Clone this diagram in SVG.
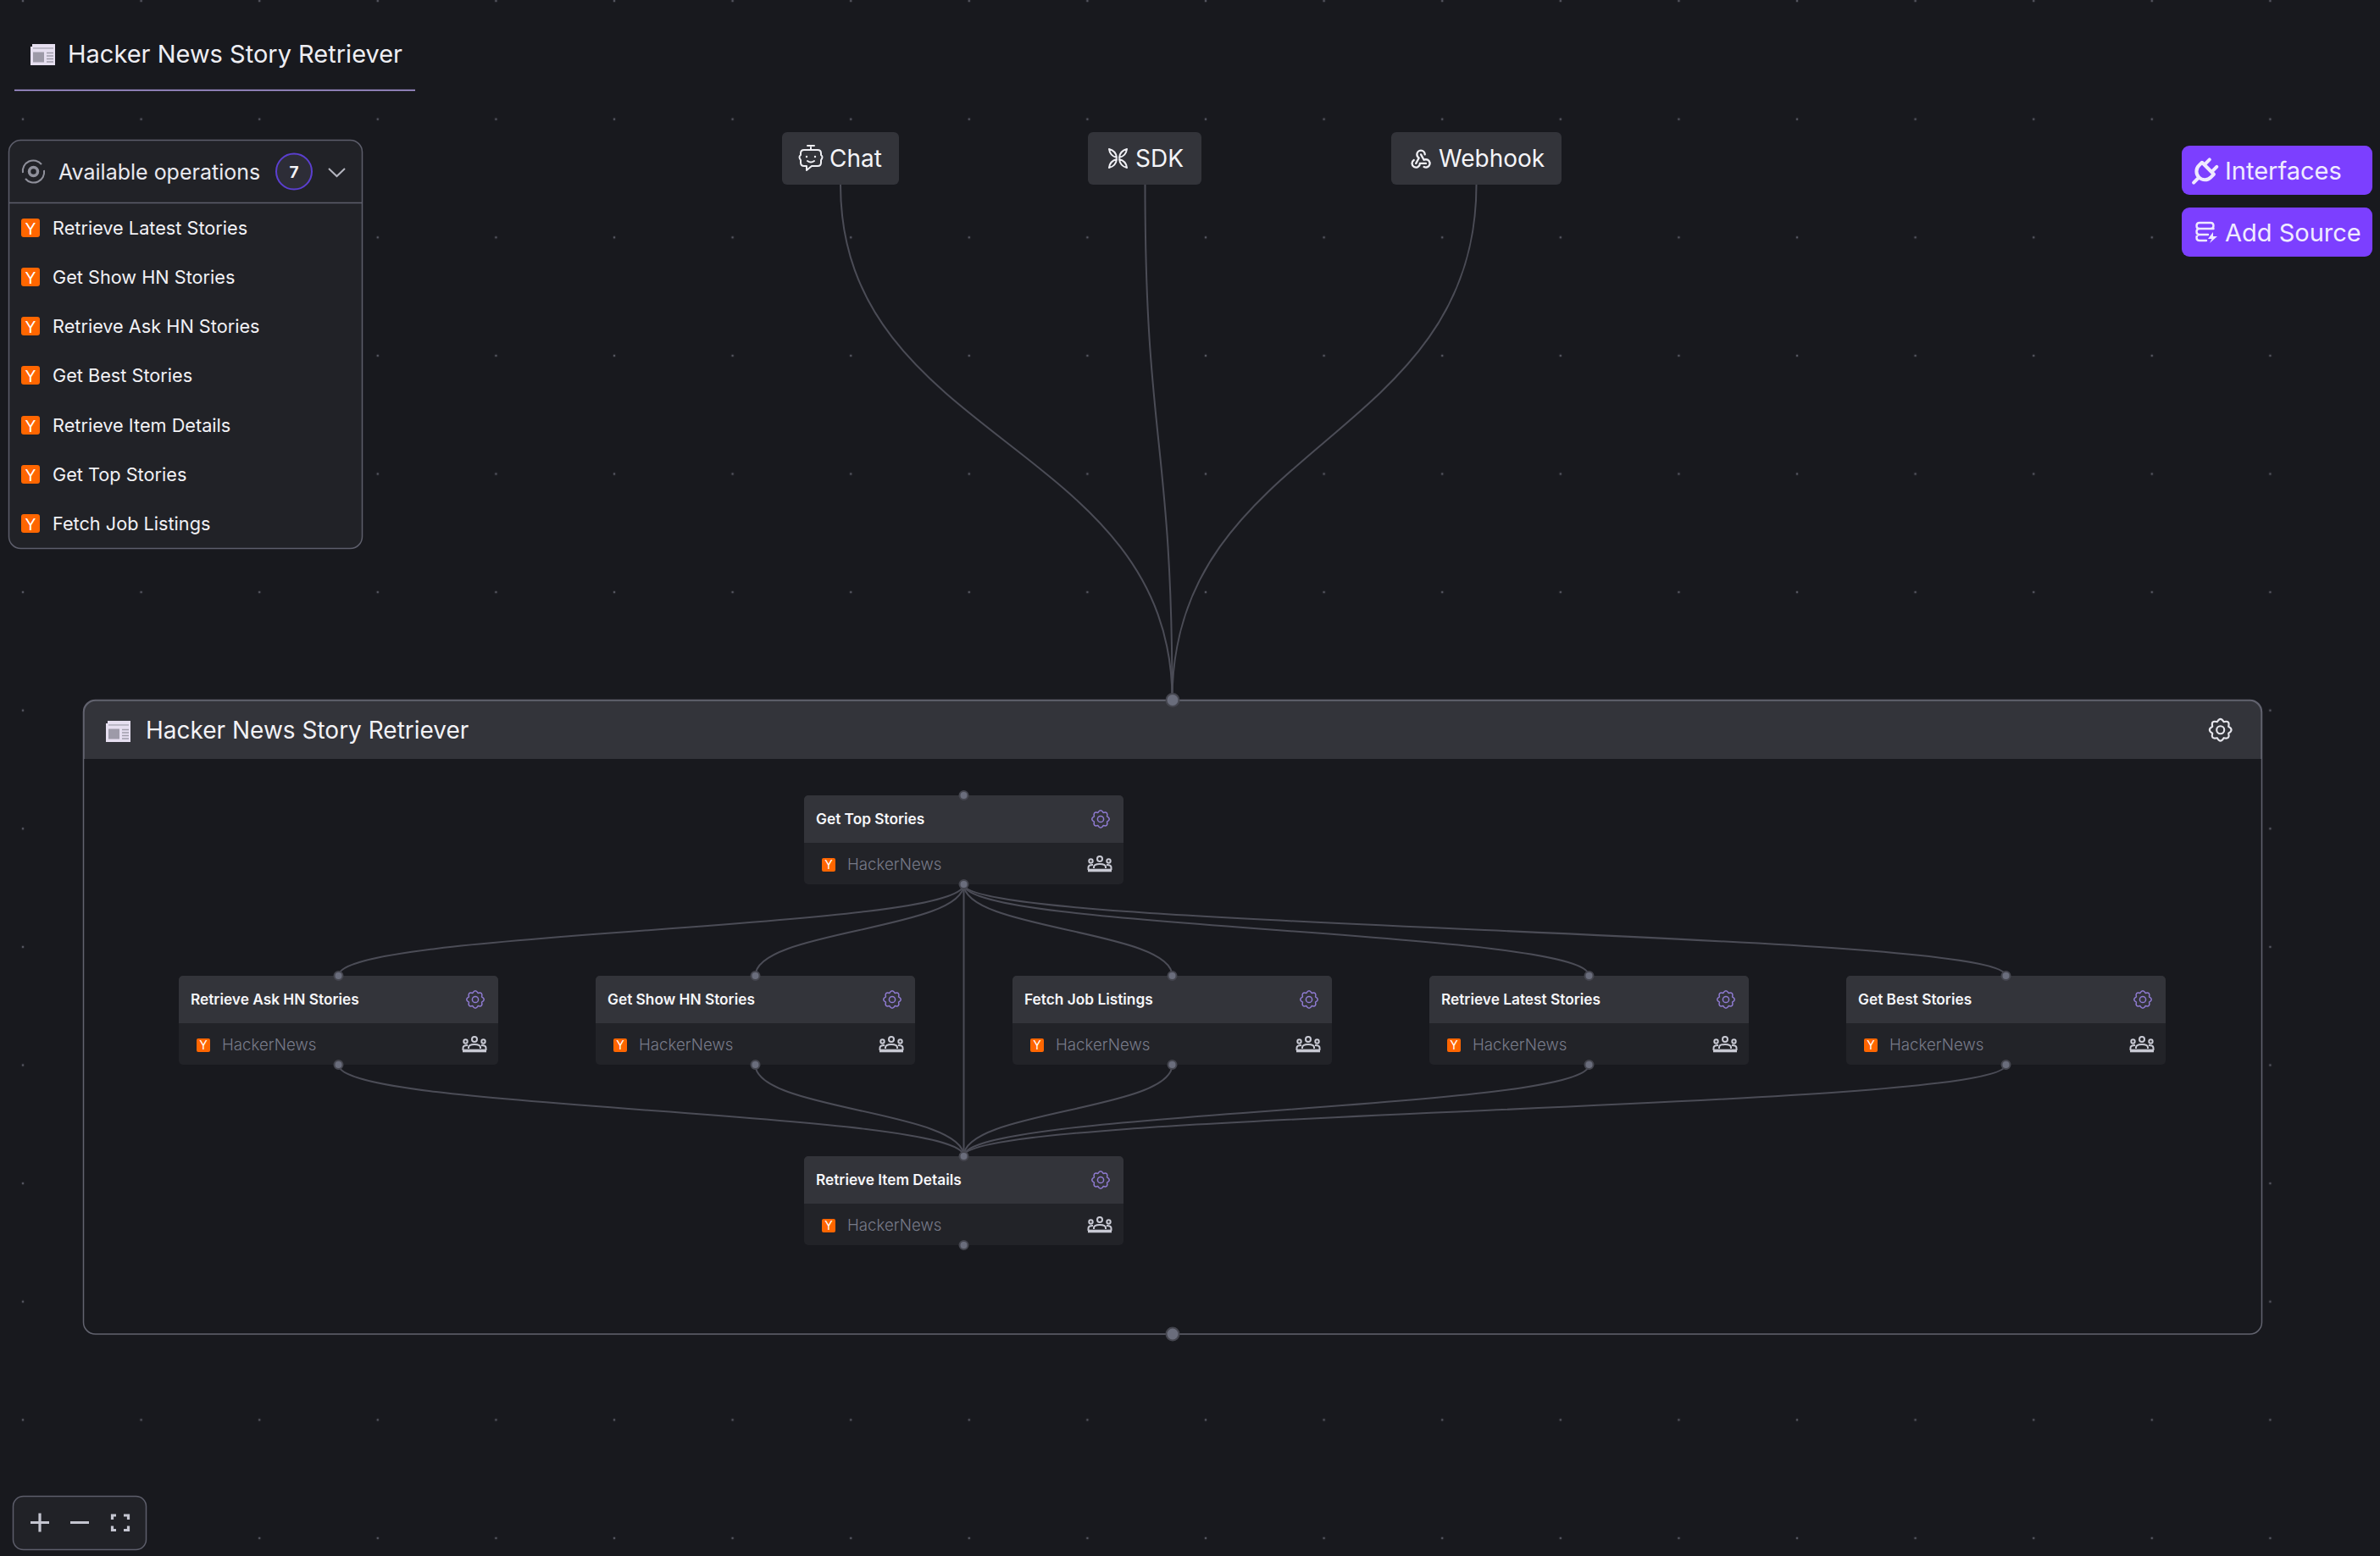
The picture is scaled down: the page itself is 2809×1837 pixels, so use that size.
<svg xmlns="http://www.w3.org/2000/svg" width="2809" height="1837" viewBox="0 0 2809 1837">
<style>
text{font-family:"Inter","Liberation Sans",sans-serif}
.edge{fill:none;stroke:#4b4c56;stroke-width:2}
.handle{fill:#6a6d7c;stroke:#45464f;stroke-width:2}
.ttl{font-size:29px;fill:#eeeef3}
.op{font-size:21.700px;fill:#f1f1f5}
.nt{font-size:17.300px;font-weight:600;fill:#f6f6f9}
.nsub{font-size:18.700px;font-weight:300;fill:#777a88}
.src{font-size:28px;fill:#f4f4f8}
.pbtn{font-size:29px;fill:#f0ebff}
.ln{fill:none;stroke:#f0f0f5;stroke-width:2;stroke-linecap:round;stroke-linejoin:round}
.pl{fill:none;stroke:#efe9ff;stroke-width:2.400;stroke-linecap:round;stroke-linejoin:round}
.ctl{fill:none;stroke:#c4c5d0;stroke-width:3.200}
</style>
<defs>
<pattern id="dots" x="27" y="140.700" width="139.600" height="139.600" patternUnits="userSpaceOnUse">
<rect x="-1.200" y="-1.200" width="2.400" height="2.400" fill="#565762"/><rect x="138.400" y="-1.200" width="2.400" height="2.400" fill="#565762"/><rect x="-1.200" y="138.400" width="2.400" height="2.400" fill="#565762"/><rect x="138.400" y="138.400" width="2.400" height="2.400" fill="#565762"/>
</pattern>
<g id="gear"><path d="M7.580,-3.140Q13,0 7.580,3.140Q9.190,9.190 3.140,7.580Q0,13 -3.140,7.580Q-9.190,9.190 -7.580,3.140Q-13,0 -7.580,-3.140Q-9.190,-9.190 -3.140,-7.580Q0,-13 3.140,-7.580Q9.190,-9.190 7.580,-3.140Z" fill="none" stroke-linejoin="round"/><circle r="3.600" fill="none"/></g>
<g id="news"><path d="M2,0H29V25H0V3H2Z" fill="#e6dff0"/><rect x="3" y="4" width="24" height="1.800" fill="#b9b6c4"/><rect x="3" y="9.500" width="13" height="12" fill="#9d9aa8"/><path d="M19,10.500H27M19,14H27M19,17.500H27M19,21H27" stroke="#a09daa" stroke-width="1.400"/></g>
<g id="people" fill="none" stroke="#c9cad4" stroke-width="2"><circle cx="0" cy="-6" r="3"/><circle cx="-10.500" cy="-3.500" r="2.200"/><circle cx="10.500" cy="-3.500" r="2.200"/><path d="M-13.500,7V4Q-13.500,1 -8,1M13.500,7V4Q13.500,1 8,1"/><path d="M-7,5V3.500Q-7,0 0,0Q7,0 7,3.500V5"/><path d="M-14,7.500H14" stroke-width="3.600"/></g>
<g id="card">
<rect width="377" height="105" rx="5" fill="#222328"/>
<path d="M0,56V5A5,5 0 0 1 5,0H372A5,5 0 0 1 377,5V56Z" fill="#33343a"/>
<use href="#gear" x="350" y="28" stroke="#8f7bd2" stroke-width="1.500"/>
<rect x="21" y="74" width="16" height="16" rx="2" fill="#ff6600"/>
<text x="29" y="87" text-anchor="middle" font-size="14" fill="#fff">Y</text>
<use href="#people" x="349" y="81"/>
<circle cx="188.500" cy="0" r="5" class="handle"/>
<circle cx="188.500" cy="105" r="5" class="handle"/>
</g>
<g id="opi"><rect width="22" height="22" rx="3" fill="#ff6600"/><text x="11" y="18.500" text-anchor="middle" font-size="19" fill="#fff">Y</text></g>
</defs>
<rect id="background" width="2809" height="1837" fill="#18191e"/>
<rect id="grid" width="2809" height="1837" fill="url(#dots)"/>

<g id="header-title">
<use href="#news" x="36" y="52"/>
<text class="ttl" x="80" y="74">Hacker News Story Retriever</text>
<path d="M17,106.500H490" stroke="#b7a4ec" stroke-width="1.500"/>
</g>

<g id="operations-panel">
<rect x="10.500" y="165.500" width="417" height="482" rx="14" fill="#212227" stroke="#5d5e6b" stroke-width="1.500"/>
<path d="M11,239.500H427" stroke="#5d5e6b" stroke-width="1.500"/>
<g fill="none" stroke="#8f909b" stroke-width="2"><path d="M27,204A12.500,12.500 0 0 1 49,194M52,201A12.500,12.500 0 0 1 30,211"/><circle cx="39.500" cy="202.500" r="5" stroke-width="3.500"/></g>
<text x="69" y="212" font-size="25" fill="#e9e9ef">Available operations</text>
<circle cx="347" cy="202.500" r="21" fill="#2d2d37" stroke="#5b3fd0" stroke-width="2"/>
<text x="347" y="209.500" text-anchor="middle" font-size="19" font-weight="700" fill="#f4f4f8">7</text>
<path d="M388,199L397.500,208L407,199" fill="none" stroke="#b4b5bf" stroke-width="2"/>
<use href="#opi" x="25" y="258"/><text class="op" x="62" y="277">Retrieve Latest Stories</text>
<use href="#opi" x="25" y="316"/><text class="op" x="62" y="335">Get Show HN Stories</text>
<use href="#opi" x="25" y="374"/><text class="op" x="62" y="393">Retrieve Ask HN Stories</text>
<use href="#opi" x="25" y="432"/><text class="op" x="62" y="451">Get Best Stories</text>
<use href="#opi" x="25" y="491"/><text class="op" x="62" y="510">Retrieve Item Details</text>
<use href="#opi" x="25" y="549"/><text class="op" x="62" y="568">Get Top Stories</text>
<use href="#opi" x="25" y="607"/><text class="op" x="62" y="626">Fetch Job Listings</text>
</g>

<g id="container-node">
<rect x="98.500" y="826.500" width="2571" height="748.500" rx="14" fill="#18191e" stroke="#62636f" stroke-width="1.500"/>
<path d="M99,896V841A14,14 0 0 1 113,827H2655A14,14 0 0 1 2669,841V896Z" fill="#33343a"/>
<path d="M99,896V841A14,14 0 0 1 113,827H2655A14,14 0 0 1 2669,841V896" fill="none" stroke="#62636f" stroke-width="1.500"/>
<use href="#news" x="125" y="851"/>
<text x="172" y="872" font-size="28" fill="#f2f2f6">Hacker News Story Retriever</text>
<use href="#gear" transform="translate(2620.700,861.700) scale(1.250)" stroke="#e6e6ec" stroke-width="1.700"/>
</g>

<g id="connectors">
<path class="edge" d="M992,218C992,522 1383.500,522 1383.500,826.500"/>
<path class="edge" d="M1351.500,218C1351.500,522 1383.500,522 1383.500,826.500"/>
<path class="edge" d="M1742.500,218C1742.500,522 1383.500,522 1383.500,826.500"/>
<path class="edge" d="M1137.500,1044C1137.500,1098 399.500,1098 399.500,1152"/>
<path class="edge" d="M1137.500,1044C1137.500,1098 891.500,1098 891.500,1152"/>
<path class="edge" d="M1137.500,1044C1137.500,1098 1383.500,1098 1383.500,1152"/>
<path class="edge" d="M1137.500,1044C1137.500,1098 1875.500,1098 1875.500,1152"/>
<path class="edge" d="M1137.500,1044C1137.500,1098 2367.500,1098 2367.500,1152"/>
<path class="edge" d="M1137.500,1044V1365"/>
<path class="edge" d="M399.500,1257C399.500,1311 1137.500,1311 1137.500,1365"/>
<path class="edge" d="M891.500,1257C891.500,1311 1137.500,1311 1137.500,1365"/>
<path class="edge" d="M1383.500,1257C1383.500,1311 1137.500,1311 1137.500,1365"/>
<path class="edge" d="M1875.500,1257C1875.500,1311 1137.500,1311 1137.500,1365"/>
<path class="edge" d="M2367.500,1257C2367.500,1311 1137.500,1311 1137.500,1365"/>
</g>

<g id="container-handles">
<circle cx="1384" cy="826.500" r="7.500" class="handle"/>
<circle cx="1384" cy="1575" r="7.500" class="handle"/>
</g>

<g id="source-chat">
<rect x="923" y="156" width="138" height="62" rx="6" fill="#33343a"/>
<path class="ln" d="M957,174V177M949,177H965Q969,177 969,181V183Q972,185 969,189V192Q969,196 965,196H958L952,201V196H949Q945,196 945,192V189Q942,185 945,183V181Q945,177 949,177ZM953,190Q957,193 961,190M953,172H961"/><circle cx="952" cy="185" r="1.200" fill="#f0f0f5"/><circle cx="962" cy="185" r="1.200" fill="#f0f0f5"/>
<text class="src" x="979" y="197">Chat</text>
</g>
<g id="source-sdk">
<rect x="1284" y="156" width="134" height="62" rx="6" fill="#33343a"/>
<path class="ln" stroke-width="1.700" d="M1309,176Q1317,178 1318,186Q1310,184 1309,176ZM1330,176Q1322,178 1321,186Q1329,184 1330,176ZM1309,198Q1317,196 1318,188Q1310,190 1309,198ZM1330,198Q1322,196 1321,188Q1329,190 1330,198Z"/>
<text class="src" x="1340" y="197">SDK</text>
</g>
<g id="source-webhook">
<rect x="1642" y="156" width="201" height="62" rx="6" fill="#33343a"/>
<path class="ln" stroke-width="1.500" transform="translate(1663,173) scale(1.170)" d="M4.876,13.610a4,4 0 1 0 6.124,3.390h6M15.066,20.502a4,4 0 1 0 1.934,-7.502c-.706,0 -1.424,.179 -2,.5l-3,-5.500M16,8a4,4 0 1 0 -8,0c0,1.506 .77,2.818 2,3.500l-3,5.500"/>
<text class="src" x="1698" y="197">Webhook</text>
</g>

<g id="btn-interfaces">
<rect x="2575" y="172" width="225" height="58" rx="9" fill="#7c3fff"/>
<path class="pl" stroke-width="1.500" transform="translate(2582.300,181.600) scale(1.700)" d="M9.785,6l8.215,8.215l-2.054,2.054a5.810,5.810 0 1 1 -8.215,-8.215l2.054,-2.054zM4,20l3.500,-3.500M15,4l-3.500,3.500M20,9l-3.500,3.500"/>
<text class="pbtn" x="2626" y="212">Interfaces</text>
</g>
<g id="btn-add-source">
<rect x="2575" y="245" width="225" height="58" rx="9" fill="#7c3fff"/>
<path class="pl" stroke-width="2" d="M2596,263H2609Q2612.500,263 2612.500,266.500Q2612.500,270 2609,270H2596Q2592.500,270 2592.500,266.500Q2592.500,263 2596,263ZM2596,270Q2592.500,270 2592.500,273.500Q2592.500,277 2596,277H2606M2596,277Q2592.500,277 2592.500,280.500Q2592.500,284 2596,284H2604M2609,270H2612.500"/>
<path d="M2612,274L2606,282H2610.500L2608,287L2617,279H2612Z" fill="#efe9ff"/>
<text class="pbtn" x="2626" y="285">Add Source</text>
</g>

<g id="node-get-top-stories" transform="translate(949,939)"><use href="#card"/><text class="nt" x="14" y="34">Get Top Stories</text><text class="nsub" x="51" y="88">HackerNews</text></g>
<g id="node-retrieve-ask" transform="translate(211,1152)"><use href="#card"/><text class="nt" x="14" y="34">Retrieve Ask HN Stories</text><text class="nsub" x="51" y="88">HackerNews</text></g>
<g id="node-get-show" transform="translate(703,1152)"><use href="#card"/><text class="nt" x="14" y="34">Get Show HN Stories</text><text class="nsub" x="51" y="88">HackerNews</text></g>
<g id="node-fetch-job" transform="translate(1195,1152)"><use href="#card"/><text class="nt" x="14" y="34">Fetch Job Listings</text><text class="nsub" x="51" y="88">HackerNews</text></g>
<g id="node-retrieve-latest" transform="translate(1687,1152)"><use href="#card"/><text class="nt" x="14" y="34">Retrieve Latest Stories</text><text class="nsub" x="51" y="88">HackerNews</text></g>
<g id="node-get-best" transform="translate(2179,1152)"><use href="#card"/><text class="nt" x="14" y="34">Get Best Stories</text><text class="nsub" x="51" y="88">HackerNews</text></g>
<g id="node-retrieve-item" transform="translate(949,1365)"><use href="#card"/><text class="nt" x="14" y="34">Retrieve Item Details</text><text class="nsub" x="51" y="88">HackerNews</text></g>

<g id="zoom-controls">
<rect x="15.500" y="1766.500" width="157" height="63" rx="12" fill="#212227" stroke="#5d5e6b" stroke-width="1.500"/>
<path class="ctl" d="M36,1797.500H58M47,1786.500V1808.500M83,1797.500H105"/>
<path class="ctl" d="M137,1789H132.500V1794M146,1789H151.500V1794M137,1806.500H132.500V1801.500M146,1806.500H151.500V1801.500"/>
</g>
</svg>
